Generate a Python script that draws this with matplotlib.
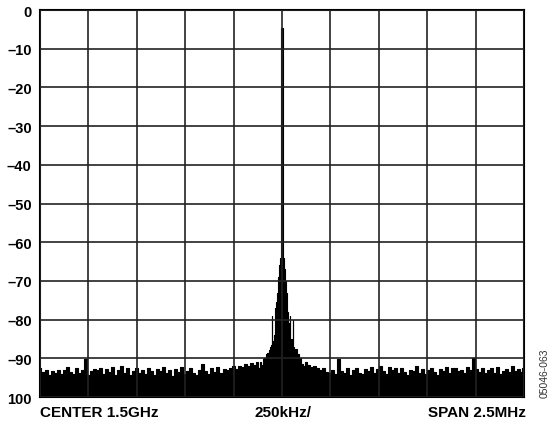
import numpy as np
import matplotlib.pyplot as plt

# spectrum analyzer trace, offset from 1.5GHz centre in kHz, level in dB
noise_left = [-92.4, -93.6, -93.0, -94.2, -93.3, -93.8, -92.9, -94.0, -93.1, -92.2,
              -93.5, -94.1, -92.6, -93.9, -93.0, -90.3, -94.3, -93.4, -92.7, -93.1,
              -92.5, -94.0, -92.8, -93.6, -92.3, -94.4, -93.0, -92.1, -93.7, -92.6,
              -94.2, -93.3, -92.4, -93.8, -92.9, -94.0, -92.5, -93.2, -94.3, -92.7,
              -93.4, -92.2, -93.9, -93.0, -94.5, -92.8, -93.5, -92.3, -94.1, -93.2,
              -92.6, -93.7, -94.2, -92.9, -91.6, -93.4, -94.0, -92.5, -93.6, -92.2,
              -93.8, -92.7, -93.1, -92.4, -92.0, -92.8, -91.9, -92.3, -91.5, -92.1,
              -91.2, -91.8, -91.0]

peak_khz = [-120, -112, -104, -96, -88, -80, -72, -66, -60, -55, -52, -49, -44,
            -40, -36, -30, -24, -18, -13, -8, -4, 0, 4, 8, 13, 18, 22, 26,
            30, 34, 38, 41, 44, 50, 54, 57, 60, 66, 75, 85, 95, 105, 115]
peak_db = [-92.5, -91.0, -91.8, -90.3, -89.8, -89.0, -88.5, -87.8, -87.0, -86.5,
           -79.0, -86.5, -85.5, -84.0, -77.0, -75.5, -73.0, -69.0, -66.0, -64.0,
           -4.6, -4.6, -4.6, -64.0, -67.0, -70.0, -73.0, -75.5, -78.0,
           -81.0, -85.0, -79.0, -86.0, -85.0, -86.5, -80.0, -87.0, -87.5, -87.5,
           -89.0, -90.0, -91.5, -92.0]

noise_right = [-91.0, -91.8, -92.3, -92.0, -92.6, -93.1, -92.4, -93.5, -93.8, -92.9,
               -94.0, -90.3, -93.2, -93.9, -92.6, -94.2, -93.0, -92.5, -93.7, -94.1,
               -92.8, -93.3, -92.2, -93.9, -92.7, -91.9, -93.4, -94.0, -92.3, -93.1,
               -92.6, -93.8, -92.4, -93.5, -94.3, -92.9, -93.2, -92.1, -93.7, -92.8,
               -94.0, -93.0, -92.5, -93.6, -94.2, -92.7, -93.3, -92.2, -93.9, -92.6,
               -92.4, -93.4, -92.9, -93.8, -92.3, -93.1, -89.8, -92.7, -93.5, -92.4,
               -93.9, -93.0, -92.6, -93.7, -92.2, -94.0, -93.2, -92.8, -93.5, -92.1,
               -93.3, -92.7, -93.6, -92.5]

y_ticks = [0, -10, -20, -30, -40, -50, -60, -70, -80, -90, -100]
y_labels = ['0', '\u201310', '\u201320', '\u201330', '\u201340', '\u201350',
            '\u201360', '\u201370', '\u201380', '\u201390', '100']

plt.rcParams['font.family'] = ['Liberation Sans', 'DejaVu Sans']

freq = np.concatenate([np.linspace(-1250, -128, len(noise_left)),
                       peak_khz,
                       np.linspace(124, 1250, len(noise_right))])
level = np.concatenate([noise_left, peak_db, noise_right])

fig = plt.figure(figsize=(5.5, 4.27), dpi=100)
ax = fig.add_axes([0.0727, 0.0679, 0.88, 0.9063])

ax.fill_between(freq, level, -100, step='mid', color='black', lw=0)
ax.plot(freq, level, drawstyle='steps-mid', color='black', lw=0.8)

ax.set_xlim(-1250, 1250)
ax.set_ylim(-100, 0)
ax.set_xticks(np.arange(-1250, 1251, 250))
ax.set_xticklabels([])
ax.set_yticks(y_ticks)
ax.set_yticklabels(y_labels, fontsize=10.5, fontweight='bold')
ax.tick_params(length=0, pad=6)
ax.grid(True, color='#222222', lw=1.2)
ax.set_axisbelow(False)
for s in ax.spines.values():
    s.set_linewidth(1.5)
    s.set_color('black')

fig.text(0.0727, 0.032, 'CENTER 1.5GHz', fontsize=11, fontweight='bold', ha='left', va='center')
fig.text(0.514, 0.032, '250kHz/', fontsize=11, fontweight='bold', ha='center', va='center')
fig.text(0.957, 0.032, 'SPAN 2.5MHz', fontsize=11, fontweight='bold', ha='right', va='center')
fig.text(0.99, 0.126, '05046-063', fontsize=7.5, rotation=90, ha='center', va='center', color='#333333')

fig.savefig('out.png', dpi=100)
